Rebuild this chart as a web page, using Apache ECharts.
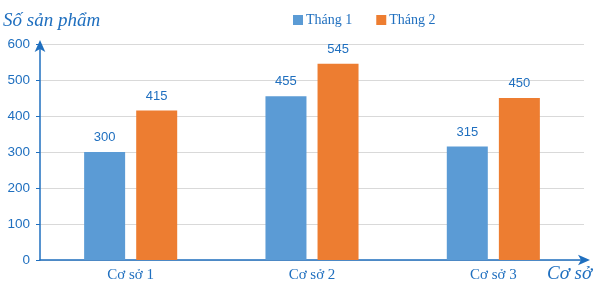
<!DOCTYPE html>
<html><head><meta charset="utf-8">
<script src="https://cdn.jsdelivr.net/npm/echarts@6/dist/echarts.min.js"></script>
<style>html,body{margin:0;padding:0;background:#fff}#c{width:598px;height:299px}</style>
</head><body><div id="c"></div>
<script>
const categories = ['Cơ sở 1', 'Cơ sở 2', 'Cơ sở 3'];
const thang1 = [300, 455, 315];
const thang2 = [415, 545, 450];
const seriesNames = ['Tháng 1', 'Tháng 2'];
const blue = '#1F6FBF';
const chart = echarts.init(document.getElementById('c'));
const lbl = {show: true, position: 'top', distance: 8, color: blue, fontFamily: 'Liberation Sans', fontSize: 13};
chart.setOption({
  animation: false,
  legend: {top: 8, left: 288, itemWidth: 10, itemHeight: 10, itemGap: 24, icon: 'rect',
    textStyle: {color: blue, fontFamily: 'Liberation Serif', fontSize: 14, padding: [0, 0, 0, -2]}},
  grid: {left: 39, right: 14, top: 44, bottom: 39},
  xAxis: {type: 'category', data: categories,
    name: 'Cơ sở', nameLocation: 'end', nameGap: -37,
    nameTextStyle: {color: blue, fontStyle: 'italic', fontFamily: 'Liberation Serif', fontSize: 19, verticalAlign: 'top', align: 'left', padding: [4, 0, 0, 0]},
    axisLine: {lineStyle: {color: blue, width: 1.5}, symbol: ['none', 'arrow'], symbolSize: [8, 12], symbolOffset: [0, 6]},
    axisTick: {show: false},
    axisLabel: {color: blue, fontFamily: 'Liberation Serif', fontSize: 15, margin: 8}},
  yAxis: {type: 'value', min: 0, max: 600, interval: 100,
    name: 'Số sản phẩm', nameLocation: 'end', nameGap: 14,
    nameTextStyle: {color: blue, fontStyle: 'italic', fontFamily: 'Liberation Serif', fontSize: 19, align: 'left', padding: [0, 0, 0, -37]},
    axisLine: {show: true, lineStyle: {color: blue, width: 1.5}, symbol: ['none', 'arrow'], symbolSize: [8, 12], symbolOffset: [0, 4]},
    axisTick: {show: true, length: 4, lineStyle: {color: blue}},
    splitLine: {lineStyle: {color: '#d9d9d9', width: 1}},
    axisLabel: {color: blue, fontFamily: 'Liberation Sans', fontSize: 13.5, margin: 10}},
  series: [
    {name: seriesNames[0], type: 'bar', data: thang1, barWidth: 41, barGap: '27%', itemStyle: {color: '#5B9BD5'}, label: lbl},
    {name: seriesNames[1], type: 'bar', data: thang2, barWidth: 41, itemStyle: {color: '#ED7D31'}, label: lbl}
  ]
});
</script></body></html>
